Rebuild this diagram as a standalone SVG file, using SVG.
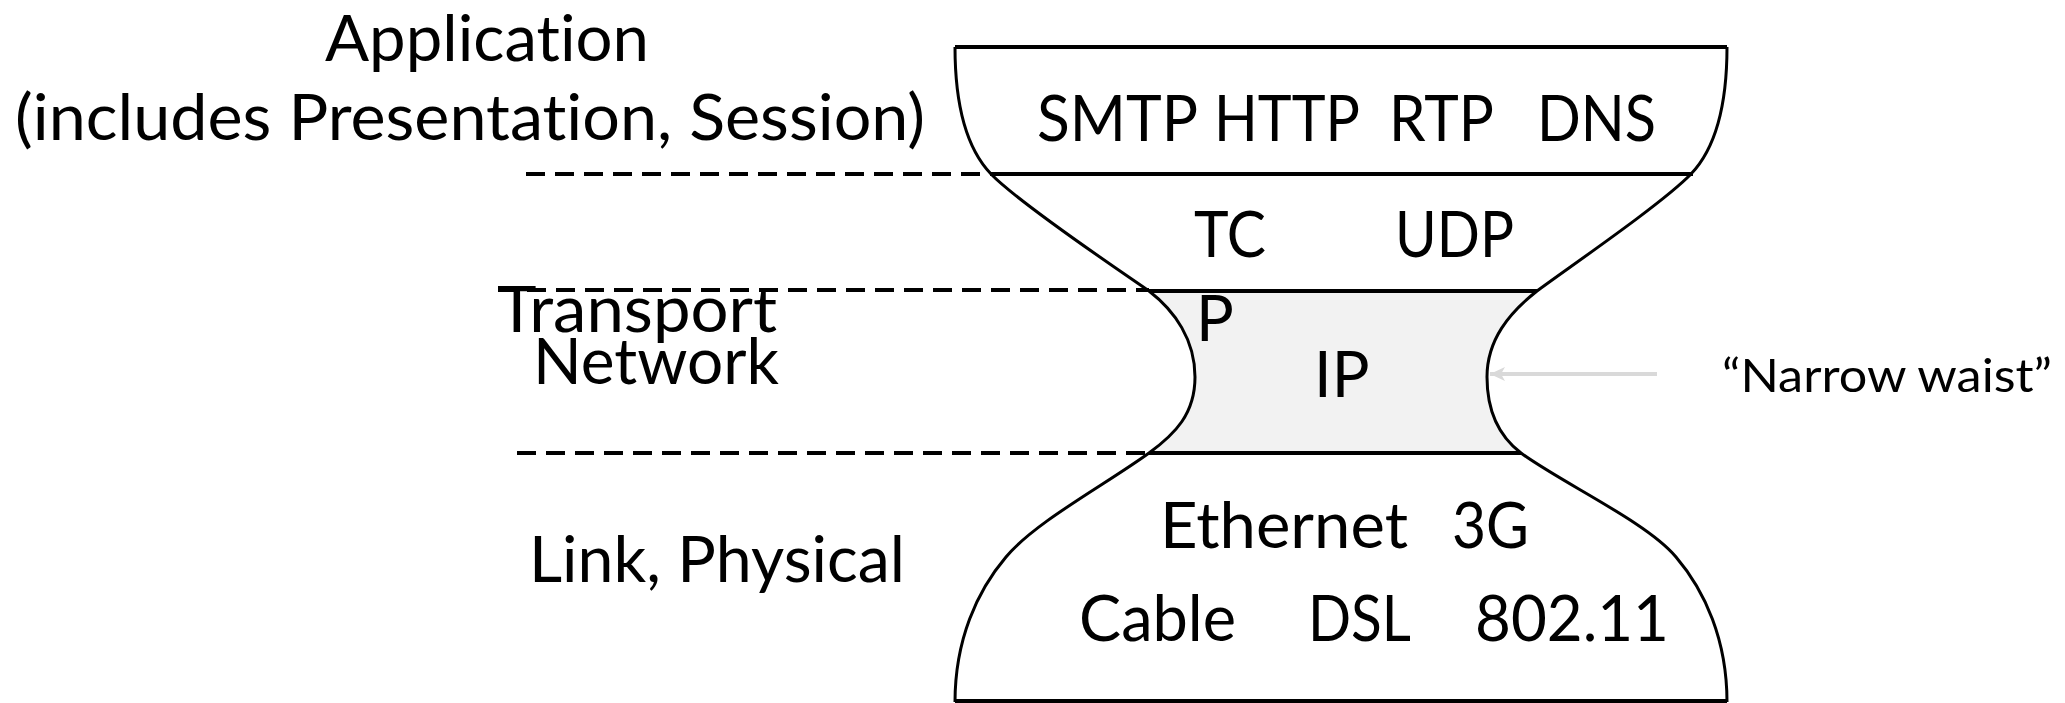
<svg xmlns="http://www.w3.org/2000/svg" width="2065" height="703" viewBox="0 0 2065 703">
  <style>
    .t { font-family: Lato, "Liberation Sans", sans-serif; font-size: 63px; fill: #000; font-variant-ligatures: none; font-feature-settings: "liga" 0; }
    .small { font-size: 46px; }
    .outline { fill: none; stroke: #000; stroke-width: 3; stroke-linejoin: round; }
    .rule { stroke: #000; stroke-width: 4; fill: none; }
    .dash { stroke: #000; stroke-width: 4; stroke-dasharray: 19 10; fill: none; }
    .pointer { stroke: #d9d9d9; stroke-width: 4; fill: none; }
  </style>
  <defs>
    <marker id="arrowhead" markerUnits="userSpaceOnUse" markerWidth="16" markerHeight="16" viewBox="0 0 16 16" refX="15" refY="8" orient="auto">
      <path d="M0,1 L15,8 L0,15 L4,8 Z" fill="#d9d9d9"/>
    </marker>
  </defs>
  <rect width="2065" height="703" fill="#fff"/>

  <g id="hourglass">
    <path id="waist-fill" d="M1149 291 C1175 311 1195 340 1195 377 C1195 414 1175 434 1149 453 L1521 453 C1500 437 1487 414 1487 377 C1487 340 1509 313 1537 291 Z" fill="#f2f2f2"/>
    <path class="outline" d="M955 47 C955 110 968 150 991 174 C1020 204 1119 270 1149 291 C1175 311 1195 340 1195 377 C1195 414 1175 434 1149 453 C1105 485 1035 522 1006 557 C977 591 955 640 955 702"/>
    <path class="outline" d="M1727 47 C1727 110 1714 150 1691 174 C1662 204 1565 270 1537 291 C1509 313 1487 340 1487 377 C1487 414 1500 437 1521 453 C1560 482 1647 522 1676 557 C1705 591 1727 640 1727 702"/>
    <line class="rule" x1="955" y1="47" x2="1727" y2="47"/>
    <line class="rule" x1="991" y1="174" x2="1693" y2="174"/>
    <line class="rule" x1="1149" y1="291" x2="1537" y2="291"/>
    <line class="rule" x1="1149" y1="453" x2="1521" y2="453"/>
    <line class="rule" x1="955" y1="701" x2="1727" y2="701"/>
  </g>

  <g id="connectors">
    <line class="dash" x1="526" y1="174" x2="991" y2="174"/>
    <line class="dash" x1="498" y1="290" x2="1149" y2="290"/>
    <line class="dash" x1="517" y1="453" x2="1149" y2="453"/>
    <line class="pointer" x1="1657" y1="374" x2="1490" y2="374" marker-end="url(#arrowhead)"/>
  </g>

  <g id="label-application">
    <text class="t" x="325" y="61" textLength="324" lengthAdjust="spacingAndGlyphs">Application</text>
    <text class="t" x="15" y="140" textLength="910" lengthAdjust="spacingAndGlyphs">(includes Presentation, Session)</text>
  </g>
  <g id="label-transport">
    <text class="t" x="497" y="332" textLength="280" lengthAdjust="spacingAndGlyphs">Transport</text>
  </g>
  <g id="label-network">
    <text class="t" x="533" y="384" textLength="246" lengthAdjust="spacingAndGlyphs">Network</text>
  </g>
  <g id="label-link">
    <text class="t" x="529" y="582" textLength="376" lengthAdjust="spacingAndGlyphs">Link, Physical</text>
  </g>

  <g id="layer-application">
    <text class="t" x="1037" y="141" textLength="161" lengthAdjust="spacingAndGlyphs">SMTP</text>
    <text class="t" x="1214" y="141" textLength="146" lengthAdjust="spacingAndGlyphs">HTTP</text>
    <text class="t" x="1389" y="141" textLength="105" lengthAdjust="spacingAndGlyphs">RTP</text>
    <text class="t" x="1537" y="141" textLength="119" lengthAdjust="spacingAndGlyphs">DNS</text>
  </g>
  <g id="layer-transport">
    <text class="t" x="1194" y="257" textLength="72" lengthAdjust="spacingAndGlyphs">TC</text>
    <text class="t" x="1395" y="257" textLength="119" lengthAdjust="spacingAndGlyphs">UDP</text>
  </g>
  <g id="layer-network">
    <text class="t" x="1196" y="341">P</text>
    <text class="t" x="1314" y="397">IP</text>
  </g>
  <g id="layer-link">
    <text class="t" x="1160" y="548" textLength="248" lengthAdjust="spacingAndGlyphs">Ethernet</text>
    <text class="t" x="1452" y="548" textLength="77" lengthAdjust="spacingAndGlyphs">3G</text>
    <text class="t" x="1079" y="641" textLength="157" lengthAdjust="spacingAndGlyphs">Cable</text>
    <text class="t" x="1308" y="641" textLength="103" lengthAdjust="spacingAndGlyphs">DSL</text>
    <text class="t" x="1475" y="641" textLength="194" lengthAdjust="spacingAndGlyphs">802.11</text>
  </g>
  <g id="label-narrow-waist">
    <text class="t small" x="1722" y="392" textLength="330" lengthAdjust="spacingAndGlyphs">“Narrow waist”</text>
  </g>
</svg>
